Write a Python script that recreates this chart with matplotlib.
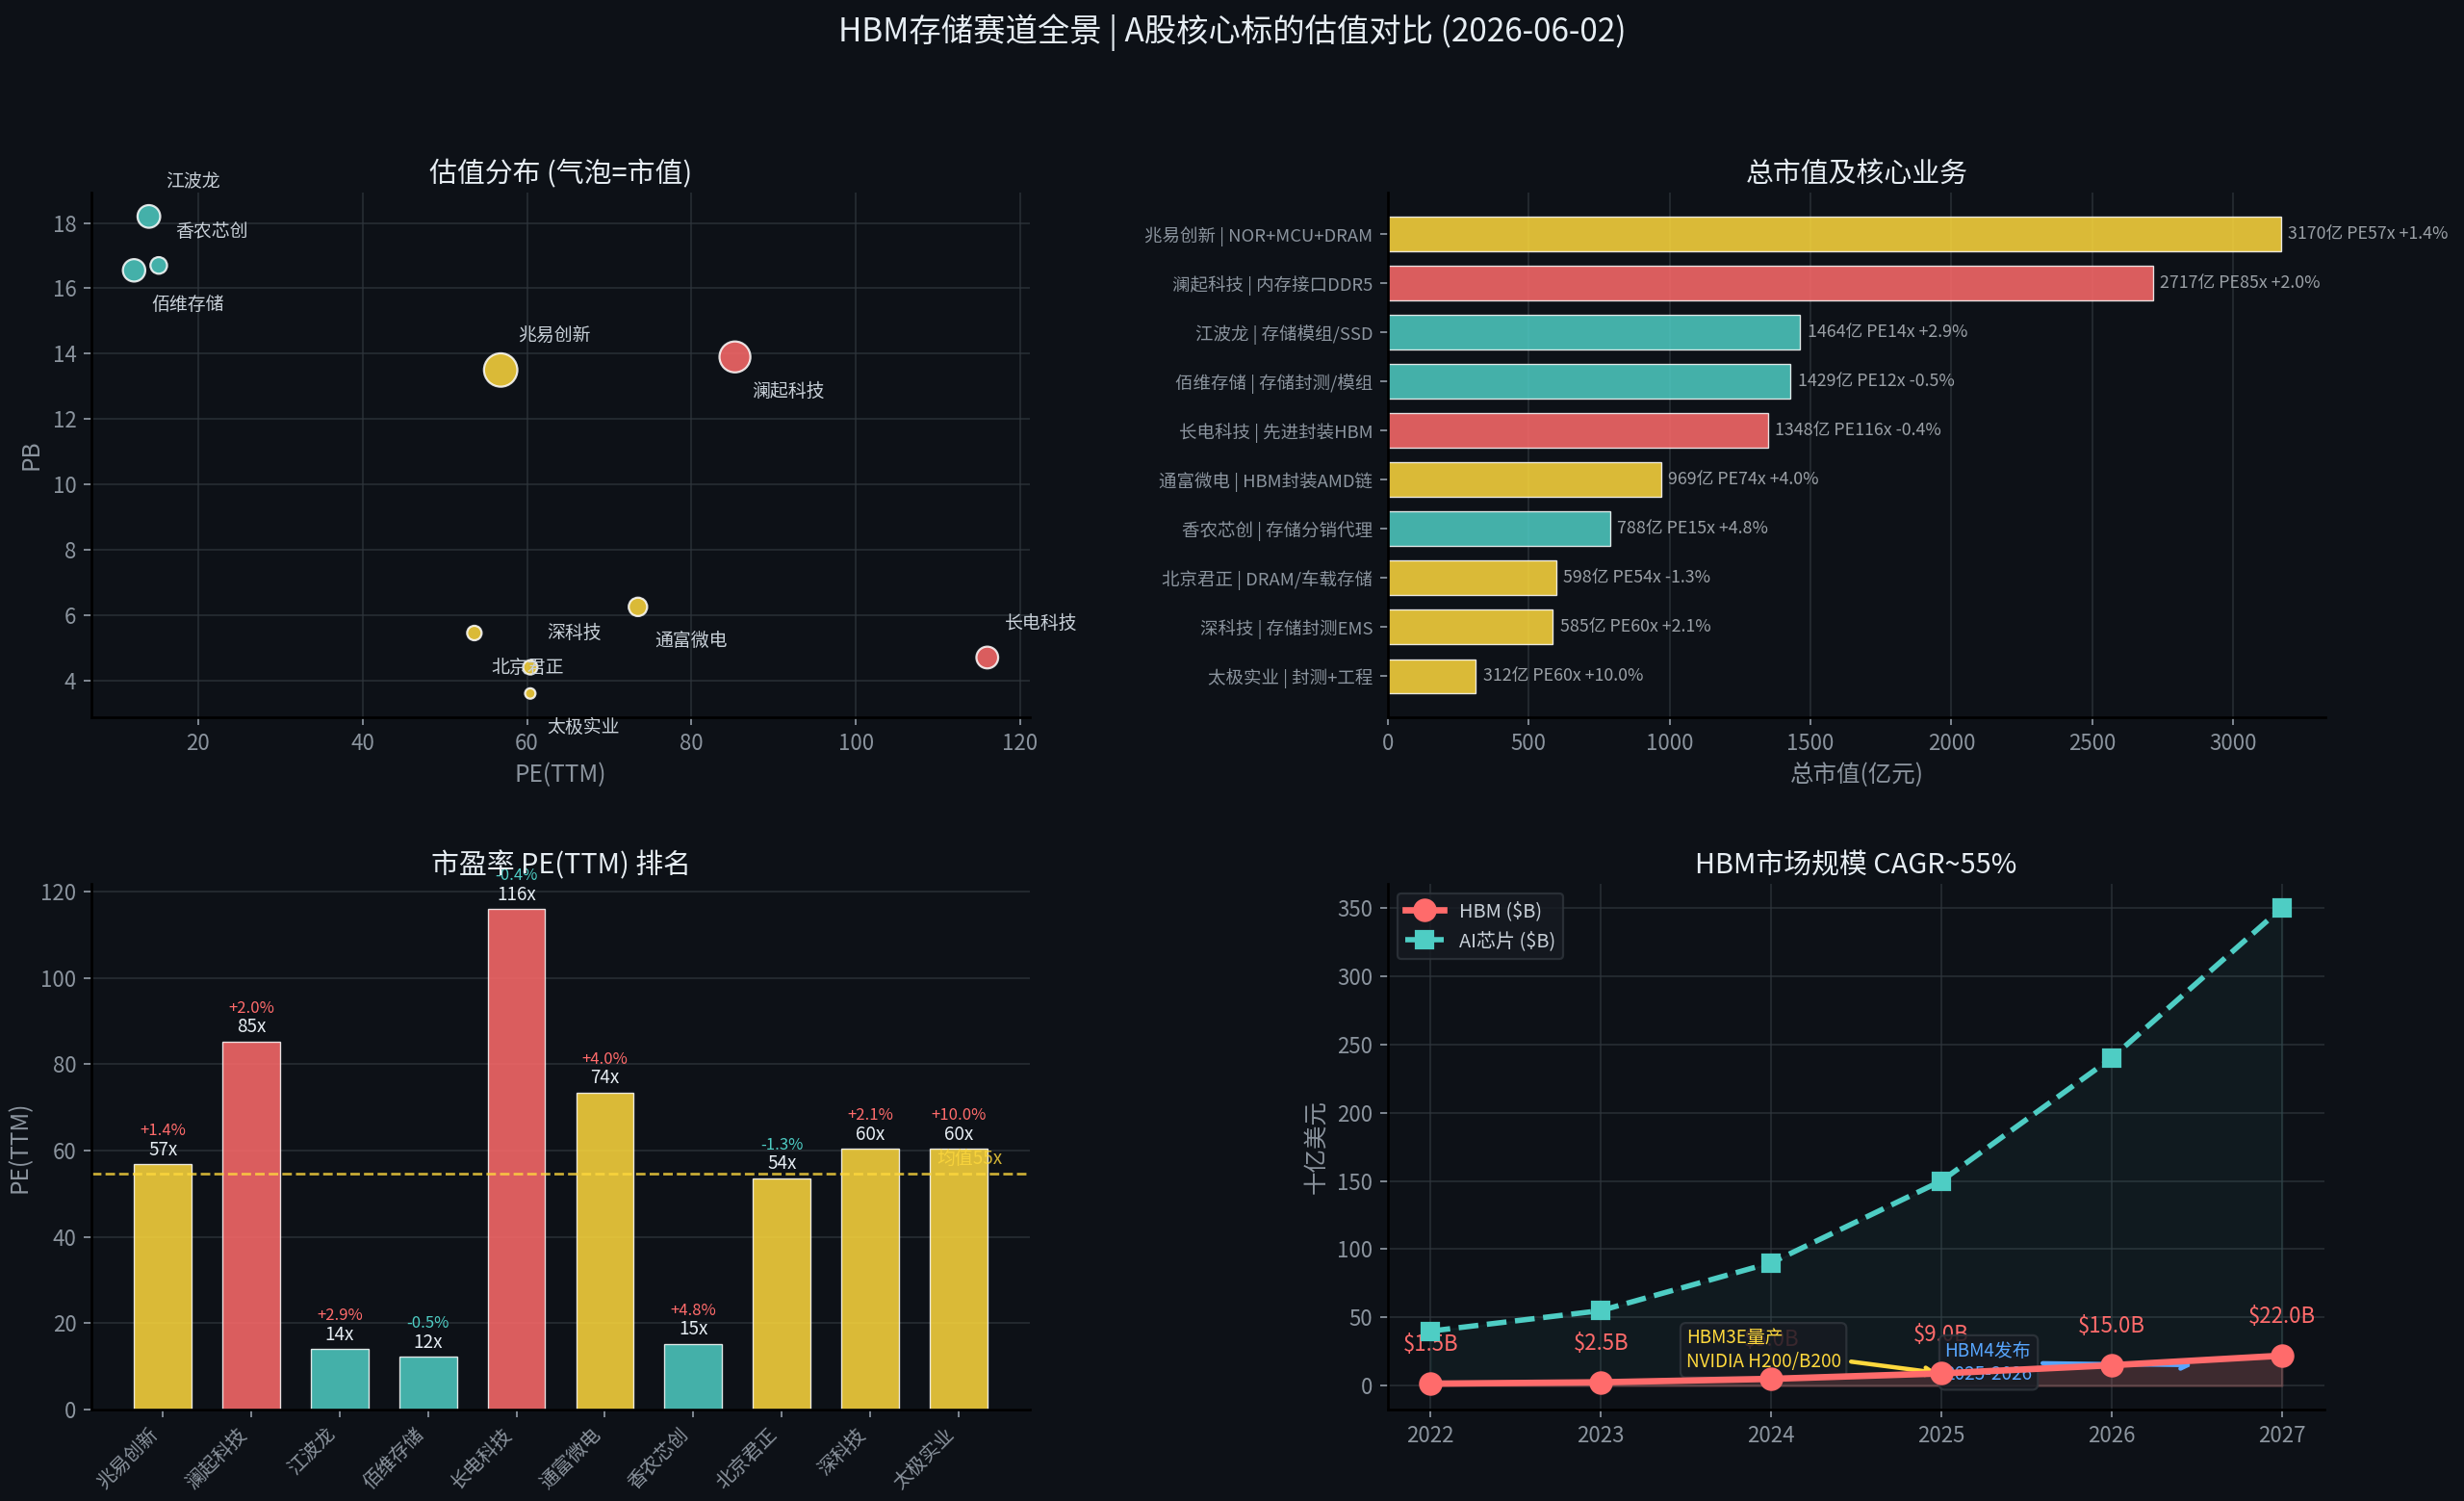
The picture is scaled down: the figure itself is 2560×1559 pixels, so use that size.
import matplotlib
matplotlib.use('Agg')
import matplotlib.pyplot as plt
import numpy as np

plt.rcParams['font.family'] = ['Noto Sans CJK SC', 'DejaVu Sans']
plt.rcParams['axes.unicode_minus'] = False

# 数据
names = ['兆易创新', '澜起科技', '江波龙', '佰维存储', '长电科技',
         '通富微电', '香农芯创', '北京君正', '深科技', '太极实业']
business = ['NOR+MCU+DRAM', '内存接口DDR5', '存储模组/SSD', '存储封测/模组', '先进封装HBM',
            'HBM封装AMD链', '存储分销代理', 'DRAM/车载存储', '存储封测EMS', '封测+工程']
mcap = [3170, 2717, 1464, 1429, 1348, 969, 788, 598, 585, 312]
pe = [56.8, 85.3, 14.0, 12.2, 116.0, 73.5, 15.2, 53.6, 60.4, 60.4]
pb = [13.5, 13.9, 18.2, 16.55, 4.7, 6.25, 16.7, 5.45, 4.4, 3.6]
chg = [1.4, 2.0, 2.9, -0.5, -0.4, 4.0, 4.8, -1.3, 2.1, 10.0]
group = ['y', 'r', 't', 't', 'r', 'y', 't', 'y', 'y', 'y']

years = [2022, 2023, 2024, 2025, 2026, 2027]
hbm = [1.5, 2.5, 5.0, 9.0, 15.0, 22.0]
ai_chip = [40, 55, 90, 150, 240, 350]

BG = '#0d1117'
TXT = '#e6edf3'
SUB = '#8b949e'
GRID = '#30363d'
YEL, RED, TEAL, BLUE = '#FFD93D', '#FF6B6B', '#4ECDC4', '#58A6FF'
cmap = {'y': YEL, 'r': RED, 't': TEAL}
colors = [cmap[g] for g in group]


def style(ax, title, gx=True, gy=True):
    ax.set_facecolor(BG)
    ax.set_title(title, color=TXT, fontsize=13, pad=5)
    for s in ['top', 'right']:
        ax.spines[s].set_visible(False)
    for s in ['left', 'bottom']:
        ax.spines[s].set_color('#000000')
        ax.spines[s].set_linewidth(1.2)
    ax.tick_params(colors=SUB, labelsize=10)
    if gx:
        ax.grid(axis='x', color=GRID, alpha=0.7, lw=0.8)
    if gy:
        ax.grid(axis='y', color=GRID, alpha=0.7, lw=0.8)
    ax.set_axisbelow(True)


fig = plt.figure(figsize=(16, 9.74375), dpi=160, facecolor=BG)
fig.suptitle('HBM存储赛道全景 | A股核心标的估值对比 (2026-06-02)', color=TXT, fontsize=15, y=0.991)

ax1 = fig.add_axes([0.0371, 0.5221, 0.3809, 0.3496])
ax2 = fig.add_axes([0.5633, 0.5221, 0.3805, 0.3496])
ax3 = fig.add_axes([0.0371, 0.0609, 0.3809, 0.3502])
ax4 = fig.add_axes([0.5633, 0.0609, 0.3801, 0.3502])

# 1. 气泡图
style(ax1, '估值分布 (气泡=市值)')
ax1.scatter(pe, pb, s=np.array(mcap) / 13, c=colors, alpha=0.85, edgecolors='white', linewidths=1)
for i, n in enumerate(names):
    dy = 16 if i % 2 == 0 else -16
    ax1.annotate(n, (pe[i], pb[i]), xytext=(8, dy), textcoords='offset points',
                 ha='left', va='center', fontsize=8.5, color='#c9d1d9')
ax1.set_xlabel('PE(TTM)', color=SUB, fontsize=11)
ax1.set_ylabel('PB', color=SUB, fontsize=11)

# 2. 市值条形图
style(ax2, '总市值及核心业务', gy=False)
ypos = np.arange(len(names))
ax2.barh(ypos, mcap, height=0.7, color=colors, alpha=0.85, edgecolor='white', linewidth=0.6)
ax2.set_yticks(ypos)
ax2.set_yticklabels([f'{n} | {b}' for n, b in zip(names, business)], fontsize=8.3)
ax2.invert_yaxis()
for i in range(len(names)):
    ax2.text(mcap[i] + 25, i, f'{mcap[i]}亿 PE{pe[i]:.0f}x {chg[i]:+.1f}%',
             va='center', ha='left', fontsize=8, color='#9aa0a6')
ax2.set_xlim(0, max(mcap) * 1.05)
ax2.set_xlabel('总市值(亿元)', color=SUB, fontsize=11)

# 3. PE排名
style(ax3, '市盈率 PE(TTM) 排名', gx=False)
x = np.arange(len(names))
ax3.bar(x, pe, width=0.65, color=colors, alpha=0.85, edgecolor='white', linewidth=0.6)
for i in range(len(names)):
    ax3.text(i, pe[i] + 1, f'{pe[i]:.0f}x', ha='center', va='bottom', fontsize=8.5, color=TXT)
    ax3.text(i, pe[i] + 5.8, f'{chg[i]:+.1f}%', ha='center', va='bottom', fontsize=7.5,
             color=RED if chg[i] > 0 else TEAL)
mean_pe = np.mean([round(p) for p in pe])
ax3.axhline(mean_pe, color=YEL, ls='--', lw=1.2, alpha=0.8)
ax3.text(len(names) - 0.5, mean_pe + 1, f'均值{mean_pe:.0f}x', ha='right', va='bottom',
         fontsize=8.5, color=YEL, alpha=0.8)
ax3.set_xticks(x)
ax3.set_xticklabels(names, rotation=45, ha='right', fontsize=9)
ax3.set_ylim(0, max(pe) * 1.05)
ax3.set_ylabel('PE(TTM)', color=SUB, fontsize=11)

# 4. 市场规模
style(ax4, 'HBM市场规模 CAGR~55%')
ax4.plot(years, hbm, color=RED, marker='o', markersize=10, lw=3, label='HBM ($B)', zorder=5)
ax4.plot(years, ai_chip, color=TEAL, marker='s', markersize=8, lw=2.5, ls='--', label='AI芯片 ($B)', zorder=4)
ax4.fill_between(years, hbm, color=RED, alpha=0.2)
ax4.fill_between(years, ai_chip, color=TEAL, alpha=0.05)
for yr, v in zip(years, hbm):
    ax4.annotate(f'${v:.1f}B', (yr, v), xytext=(0, 13), textcoords='offset points',
                 ha='center', va='bottom', fontsize=10, color=RED)
ax4.annotate('HBM3E量产\nNVIDIA H200/B200', xy=(2025, 9), xytext=(2023.5, 26),
             ha='left', va='center', fontsize=8.5, color=YEL,
             bbox=dict(boxstyle='round,pad=0.3', fc='#161b22', ec=GRID, alpha=0.85),
             arrowprops=dict(arrowstyle='->', color=YEL, lw=2))
ax4.annotate('HBM4发布\n2025-2026', xy=(2026.5, 15), xytext=(2025.02, 17),
             ha='left', va='center', fontsize=8.5, color=BLUE,
             bbox=dict(boxstyle='round,pad=0.3', fc='#161b22', ec=GRID, alpha=0.85),
             arrowprops=dict(arrowstyle='->', color=BLUE, lw=2))
ax4.set_xticks(years)
ax4.set_ylabel('十亿美元', color=SUB, fontsize=11)
leg = ax4.legend(loc='upper left', fontsize=9, facecolor='#161b22', edgecolor=GRID, labelcolor='#c9d1d9')

fig.savefig('out.png', dpi=160, facecolor=BG)
